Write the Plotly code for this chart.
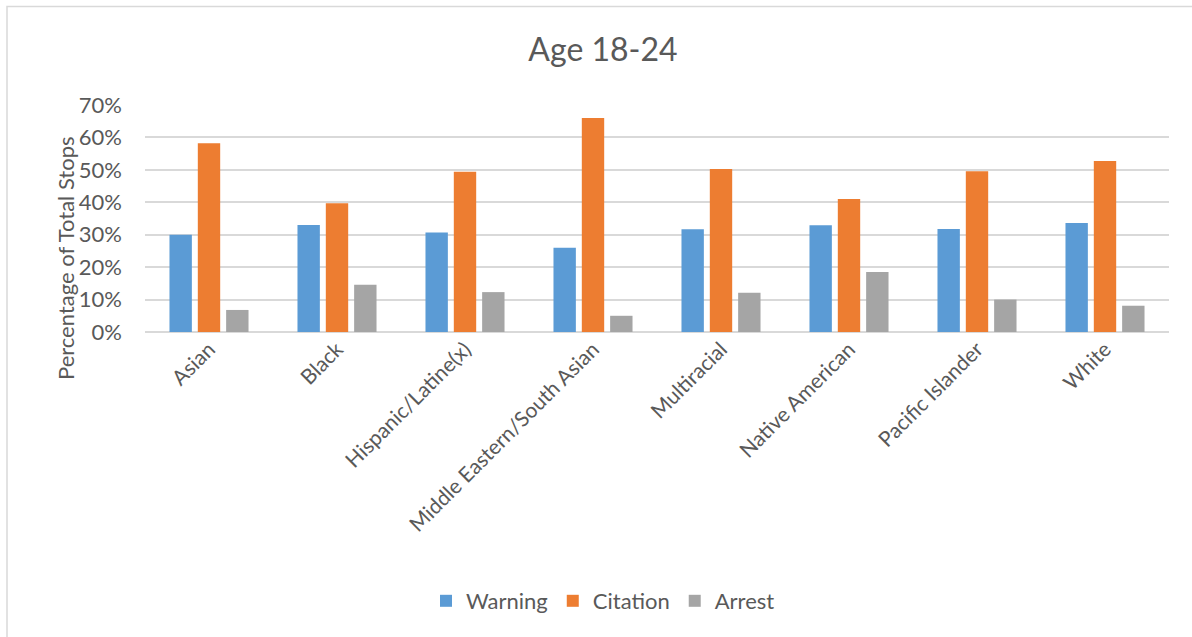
import plotly.graph_objects as go

categories = ["Asian", "Black", "Hispanic/Latine(x)", "Middle Eastern/South Asian",
              "Multiracial", "Native American", "Pacific Islander", "White"]
warning = [0.300, 0.330, 0.307, 0.260, 0.317, 0.329, 0.318, 0.336]
citation = [0.582, 0.397, 0.494, 0.660, 0.503, 0.410, 0.496, 0.527]
arrest = [0.068, 0.146, 0.123, 0.050, 0.121, 0.185, 0.100, 0.081]

series = [("Warning", warning, "#5B9BD5"),
          ("Citation", citation, "#ED7D31"),
          ("Arrest", arrest, "#A5A5A5")]

FONT = "Lato, Carlito, Calibri, sans-serif"
GREY = "#595959"

fig = go.Figure()
for name, vals, color in series:
    fig.add_trace(go.Bar(x=categories, y=vals, name=name,
                         marker=dict(color=color, line=dict(width=0))))

W, H = 1192, 637
L, R, T, B = 145, 23, 105, 305
pw, ph = W - L - R, H - T - B

def px_to_paper_x(px):
    return (px - L) / pw

def px_to_paper_y(py):
    return (H - B - py) / ph

fig.update_layout(
    width=W, height=H,
    margin=dict(l=L, r=R, t=T, b=B, autoexpand=False),
    paper_bgcolor="white", plot_bgcolor="white",
    font=dict(family=FONT, color=GREY),
    title=dict(text="Age 18-24", x=603 / W, xanchor="center", xref="container",
               y=1 - 50 / H, yanchor="middle",
               font=dict(size=32, color=GREY, family=FONT)),
    barmode="group", bargap=0.336, bargroupgap=0.21,
    showlegend=True,
    legend=dict(orientation="h", x=603 / W, xanchor="center", xref="container",
                y=px_to_paper_y(601), yanchor="middle",
                font=dict(size=22, color=GREY, family=FONT),
                itemwidth=30, traceorder="normal"),
    xaxis=dict(tickangle=-45, tickfont=dict(size=21, color=GREY, family=FONT),
               showgrid=False, showline=False, ticks=""),
    yaxis=dict(range=[0, 0.7], dtick=0.1, tickformat=".0%",
               tickfont=dict(size=22, color=GREY, family=FONT),
               showgrid=True, gridcolor="#D9D9D9", gridwidth=1.5,
               zeroline=True, zerolinecolor="#D9D9D9", zerolinewidth=1.5,
               showline=False, ticks="", ticklabelstandoff=22),
    annotations=[dict(text="Percentage of Total Stops", textangle=-90,
                      xref="paper", yref="paper",
                      x=px_to_paper_x(65), y=px_to_paper_y(258),
                      xanchor="center", yanchor="middle", showarrow=False,
                      font=dict(size=22, color=GREY, family=FONT))],
    shapes=[dict(type="rect", xref="paper", yref="paper",
                 x0=px_to_paper_x(7), x1=px_to_paper_x(1200),
                 y0=px_to_paper_y(660), y1=px_to_paper_y(6.5),
                 line=dict(color="#D9D9D9", width=1.5), fillcolor="rgba(0,0,0,0)",
                 layer="below")],
)

fig.write_html("out.html", config={"displayModeBar": False},
               post_script="document.body.style.margin='0';document.body.style.overflow='hidden';")
